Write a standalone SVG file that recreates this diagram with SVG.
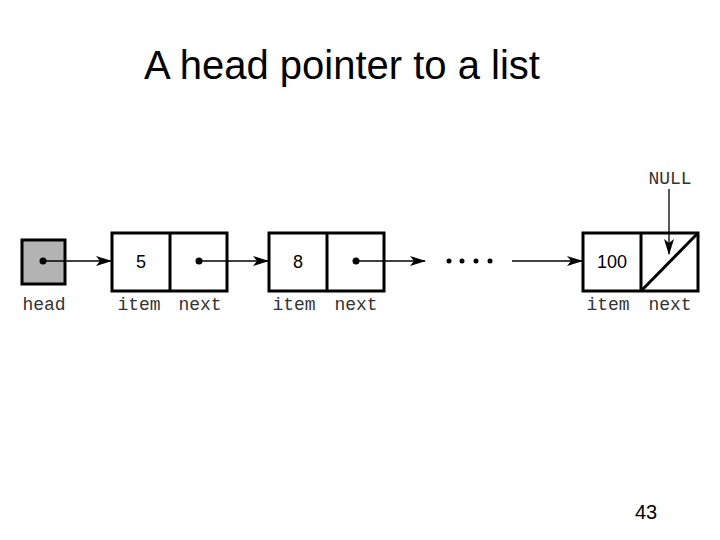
<svg xmlns="http://www.w3.org/2000/svg" width="720" height="540" viewBox="0 0 720 540">
<style>
.box{fill:#fff;stroke:#000;stroke-width:3}
.ln{stroke:#000;stroke-width:1.3;fill:none}
.mono{font-family:"Liberation Mono",monospace;font-size:18px;fill:#333}
.sans{font-family:"Liberation Sans",Arial,sans-serif;fill:#000}
</style>
<defs>
<marker id="ah" markerWidth="16" markerHeight="10" refX="15" refY="5" orient="auto" markerUnits="userSpaceOnUse"><path d="M0,0 L16,5 L0,10 L4,5 Z" fill="#000"/></marker>
</defs>
<rect width="720" height="540" fill="#fff"/>
<text class="sans" x="342" y="79" font-size="40" text-anchor="middle">A head pointer to a list</text>
<g id="head"><rect x="22" y="240" width="43" height="44" fill="#b3b3b3" stroke="#000" stroke-width="3"/><circle cx="43" cy="261" r="3.5"/><text class="mono" x="44" y="310" text-anchor="middle">head</text></g>
<g id="node1"><rect class="box" x="112" y="233" width="115" height="58"/><line class="box" x1="170" y1="233" x2="170" y2="291"/><text class="sans" x="141" y="268" font-size="18" text-anchor="middle" fill="#333">5</text><circle cx="199" cy="261" r="3.5"/><text class="mono" x="139" y="310" text-anchor="middle">item</text><text class="mono" x="200" y="310" text-anchor="middle">next</text></g>
<g id="node2"><rect class="box" x="269" y="233" width="115" height="58"/><line class="box" x1="327" y1="233" x2="327" y2="291"/><text class="sans" x="298" y="268" font-size="18" text-anchor="middle" fill="#333">8</text><circle cx="356" cy="261" r="3.5"/><text class="mono" x="294" y="310" text-anchor="middle">item</text><text class="mono" x="356" y="310" text-anchor="middle">next</text></g>
<g id="dots"><circle cx="449" cy="261" r="2.5"/><circle cx="462" cy="261" r="2.5"/><circle cx="476" cy="261" r="2.5"/><circle cx="490" cy="261" r="2.5"/></g>
<g id="node3"><rect class="box" x="583" y="233" width="115" height="58"/><line class="box" x1="641" y1="233" x2="641" y2="291"/><line class="box" x1="642" y1="290" x2="697" y2="234"/><text class="sans" x="612" y="268" font-size="18" text-anchor="middle" fill="#333">100</text><text class="mono" x="608" y="310" text-anchor="middle">item</text><text class="mono" x="670" y="310" text-anchor="middle">next</text></g>
<g id="null"><text class="mono" x="670" y="184" text-anchor="middle" font-size="15">NULL</text></g>
<g id="connectors">
<line class="ln" x1="43" y1="261" x2="111" y2="261" marker-end="url(#ah)"/>
<line class="ln" x1="199" y1="261" x2="268" y2="261" marker-end="url(#ah)"/>
<line class="ln" x1="356" y1="261" x2="425" y2="261" marker-end="url(#ah)"/>
<line class="ln" x1="512" y1="261" x2="582" y2="261" marker-end="url(#ah)"/>
<line class="ln" x1="669" y1="189" x2="669" y2="254" marker-end="url(#ah)"/>
</g>
<text class="sans" x="646" y="519" font-size="20" text-anchor="middle">43</text>
</svg>
